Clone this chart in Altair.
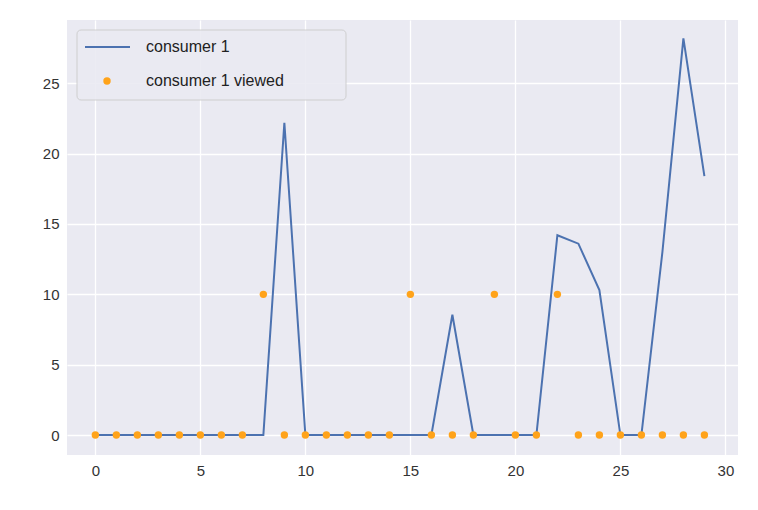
import altair as alt
import pandas as pd

x = list(range(30))
consumer = [0,0,0,0,0,0,0,0,0,22.2,0,0,0,0,0,0,0,8.55,0,0,0,0,14.2,13.6,10.3,0,0,13,28.2,18.4]
viewed = [0,0,0,0,0,0,0,0,10,0,0,0,0,0,0,10,0,0,0,10,0,0,10,0,0,0,0,0,0,0]
df = pd.DataFrame({"x": x, "c": consumer, "v": viewed})

W, H = 671, 435
xs = alt.Scale(domain=[-1.35, 30.6], nice=False, zero=False)
ys = alt.Scale(domain=[-1.42, 29.5], nice=False, zero=False)
ax = dict(domain=False, ticks=False, labelFontSize=15, labelColor="#333", gridColor="white", gridWidth=1.3, labelPadding=8, title=None, labelFont="Liberation Sans")
X = alt.X("x:Q", scale=xs, axis=alt.Axis(values=[0,5,10,15,20,25,30], **ax))
Y = alt.Y("c:Q", scale=ys, axis=alt.Axis(values=[0,5,10,15,20,25], **ax))

line = alt.Chart(df).mark_line(color="#4C72B0", strokeWidth=2).encode(x=X, y=Y)
pts = alt.Chart(df).mark_circle(color="#FFA31A", size=55, opacity=1).encode(x=X, y=alt.Y("v:Q", scale=ys))

leg = pd.DataFrame({"k": [0]})
box = alt.Chart(leg).mark_rect(fill="#EAEAF2", stroke="#cccccc", cornerRadius=4, opacity=0.9).encode(
    x=alt.value(10), x2=alt.value(279), y=alt.value(10), y2=alt.value(80))
lsym = alt.Chart(leg).mark_rule(color="#4C72B0", strokeWidth=2).encode(x=alt.value(18), x2=alt.value(63), y=alt.value(27))
psym = alt.Chart(leg).mark_circle(color="#FFA31A", size=55, opacity=1).encode(x=alt.value(40), y=alt.value(61))
t1 = alt.Chart(leg).mark_text(text="consumer 1", align="left", baseline="middle", fontSize=16, font="Liberation Sans", color="#222").encode(x=alt.value(79), y=alt.value(27))
t2 = alt.Chart(leg).mark_text(text="consumer 1 viewed", align="left", baseline="middle", fontSize=16, font="Liberation Sans", color="#222").encode(x=alt.value(79), y=alt.value(61))

chart = alt.layer(line, pts, box, lsym, psym, t1, t2).properties(
    width=W, height=H, autosize="none",
    padding={"left": 59, "top": 12, "right": 12, "bottom": 47},
    background="white"
).configure_view(fill="#EAEAF2", stroke=None)

chart.save("out.html", embed_options={"renderer": "svg", "actions": False})
